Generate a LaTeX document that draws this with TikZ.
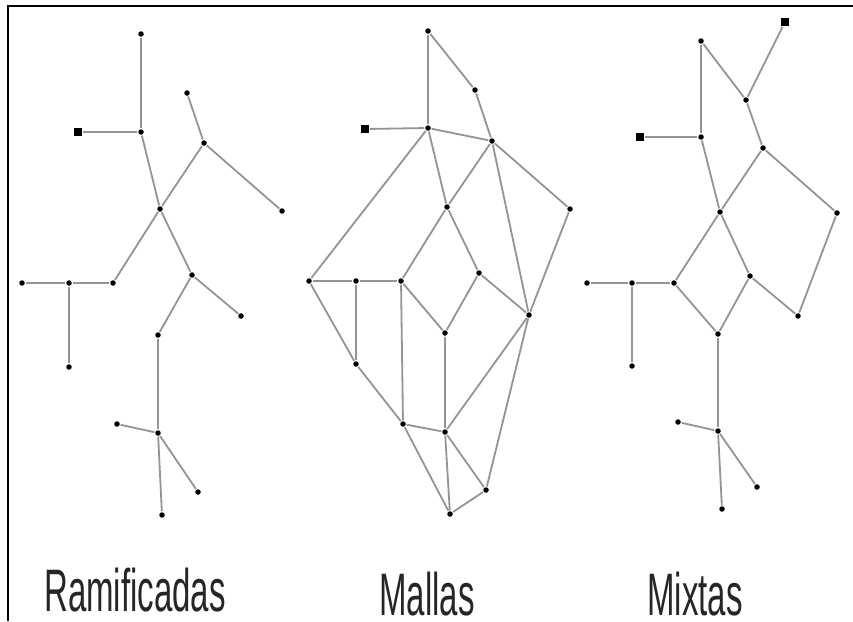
\documentclass[tikz,border=0pt]{standalone}
\usepackage{fontspec}
\setsansfont{Liberation Sans}
\usetikzlibrary{shapes, positioning}

\begin{document}
\begin{tikzpicture}[x=1pt, y=-1pt]
	\tikzstyle{format} = [fill=black, circle, minimum size=5.5pt, inner sep=0pt]
	\tikzstyle{feed} = [fill=black, rectangle, minimum size=8pt, inner sep=0pt]
	\tikzstyle{pipe} = [draw=black!42, line width=1.8pt]
	\tikzstyle{title} = [font=\sffamily\fontsize{60}{60}\selectfont, xscale=0.55, anchor=base, inner sep=0pt, text=black!85]

	\useasboundingbox[fill=white] (0,0) rectangle (853,621);
	\draw[line width=2.2pt] (8,621) -- (8,6) -- (853,6);

	% ramificadas
	\begin{scope}
		\path[pipe]
			node[format] (1) at (141,34) {}
			node[format] (2) at (141,132) {}
			node[feed] (3) at (78,132) {}
			node[format] (4) at (160,209) {}
			node[format] (5) at (204,143) {}
			node[format] (6) at (187,93) {}
			node[format] (7) at (282,211) {}
			node[format] (8) at (192,275) {}
			node[format] (9) at (241,316) {}
			node[format] (10) at (113,283) {}
			node[format] (11) at (69,283) {}
			node[format] (12) at (22,283) {}
			node[format] (13) at (69,367) {}
			node[format] (14) at (158,335) {}
			node[format] (15) at (158,433) {}
			node[format] (16) at (117,424) {}
			node[format] (17) at (198,492) {}
			node[format] (18) at (162,515) {}

			(1) edge (2)
			(3) edge (2)
			(2) edge (4)
			(4) edge (5)
			(5) edge (6)
			(5) edge (7)
			(4) edge (10)
			(4) edge (8)
			(8) edge (9)
			(8) edge (14)
			(10) edge (11)
			(11) edge (12)
			(11) edge (13)
			(14) edge (15)
			(15) edge (16)
			(15) edge (17)
			(15) edge (18)
		;
		\node[title] (t) at (135,611) {Ramificadas};
	\end{scope}

	% mallas
	\begin{scope}
		\path[pipe]
			node[format] (1) at (428,31) {}
			node[format] (2) at (475,90) {}
			node[format] (3) at (428,128) {}
			node[feed] (4) at (365,129) {}
			node[format] (5) at (492,141) {}
			node[format] (6) at (447,207) {}
			node[format] (7) at (570,209) {}
			node[format] (8) at (309,281) {}
			node[format] (9) at (356,281) {}
			node[format] (10) at (401,281) {}
			node[format] (11) at (479,273) {}
			node[format] (12) at (529,315) {}
			node[format] (13) at (445,333) {}
			node[format] (14) at (356,364) {}
			node[format] (15) at (403,424) {}
			node[format] (16) at (445,432) {}
			node[format] (17) at (486,490) {}
			node[format] (18) at (450,514) {}

			(1) edge (3)
			(1) edge (2)
			(2) edge (5)
			(4) edge (3)
			(3) edge (5)
			(3) edge (8)
			(3) edge (6)
			(5) edge (6)
			(5) edge (12)
			(5) edge (7)
			(7) edge (12)
			(6) edge (10)
			(6) edge (11)
			(11) edge (12)
			(11) edge (13)
			(8) edge (9)
			(9) edge (10)
			(8) edge (14)
			(9) edge (14)
			(10) edge (15)
			(10) edge (13)
			(13) edge (16)
			(12) edge (16)
			(12) edge (17)
			(14) edge (15)
			(15) edge (16)
			(15) edge (18)
			(16) edge (18)
			(16) edge (17)
			(17) edge (18)
		;
		\node[title] (t) at (427,615) {Mallas};
	\end{scope}

	% mixtas
	\begin{scope}
		\path[pipe]
			node[feed] (1) at (785,22) {}
			node[format] (2) at (701,41) {}
			node[format] (3) at (746,100) {}
			node[format] (4) at (701,137) {}
			node[feed] (5) at (640,137) {}
			node[format] (6) at (763,148) {}
			node[format] (7) at (720,212) {}
			node[format] (8) at (837,213) {}
			node[format] (9) at (674,283) {}
			node[format] (10) at (632,283) {}
			node[format] (11) at (587,283) {}
			node[format] (12) at (750,276) {}
			node[format] (13) at (798,316) {}
			node[format] (14) at (718,334) {}
			node[format] (15) at (632,366) {}
			node[format] (16) at (718,431) {}
			node[format] (17) at (678,422) {}
			node[format] (18) at (757,487) {}
			node[format] (19) at (722,509) {}

			(1) edge (3)
			(2) edge (3)
			(2) edge (4)
			(5) edge (4)
			(4) edge (7)
			(3) edge (6)
			(6) edge (7)
			(6) edge (8)
			(8) edge (13)
			(7) edge (9)
			(7) edge (12)
			(12) edge (13)
			(12) edge (14)
			(9) edge (14)
			(9) edge (10)
			(10) edge (11)
			(10) edge (15)
			(14) edge (16)
			(16) edge (17)
			(16) edge (18)
			(16) edge (19)
		;
		\node[title] (t) at (695,615) {Mixtas};
	\end{scope}
\end{tikzpicture}
\end{document}
